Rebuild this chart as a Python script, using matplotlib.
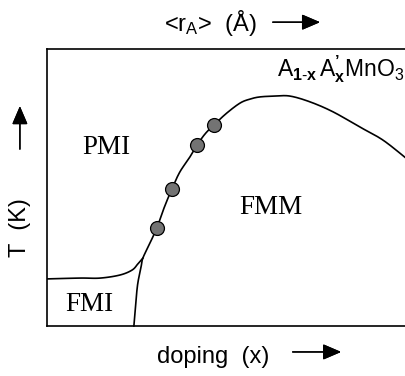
import numpy as np
import matplotlib.pyplot as plt

plt.rcParams['font.family'] = ['Liberation Sans', 'DejaVu Sans']
plt.rcParams['mathtext.fontset'] = 'custom'
plt.rcParams['mathtext.rm'] = 'Liberation Sans'
plt.rcParams['mathtext.it'] = 'Liberation Sans:italic'
plt.rcParams['mathtext.bf'] = 'Liberation Sans:bold'

# phase boundary PMI / FMM (and FMM / FMI below the junction), arbitrary units
tc_x = [0.242, 0.248, 0.253, 0.262, 0.267, 0.287, 0.306, 0.326, 0.348, 0.370,
        0.396, 0.418, 0.440, 0.465, 0.501, 0.538, 0.565, 0.593, 0.635, 0.677,
        0.733, 0.797, 0.872, 0.936, 1.000]
tc_y = [0.000, 0.094, 0.155, 0.213, 0.245, 0.300, 0.354, 0.426, 0.495, 0.556,
        0.606, 0.653, 0.693, 0.726, 0.769, 0.805, 0.819, 0.827, 0.830, 0.830,
        0.809, 0.773, 0.718, 0.671, 0.606]

# PMI / FMI boundary
fmi_x = [0.000, 0.092, 0.148, 0.203, 0.237, 0.253, 0.267]
fmi_y = [0.170, 0.173, 0.173, 0.184, 0.202, 0.224, 0.245]

# measured points on the boundary
pts_x = [0.306, 0.348, 0.418, 0.465]
pts_y = [0.354, 0.495, 0.653, 0.726]


def smooth(xs, ys, n=20):
    # Catmull-Rom curve through the given points, only for a smooth stroke
    p = np.column_stack([xs, ys])
    p = np.vstack([p[0], p, p[-1]])
    out = []
    t = np.linspace(0, 1, n, endpoint=False)[:, None]
    for i in range(1, len(p) - 2):
        p0, p1, p2, p3 = p[i - 1], p[i], p[i + 1], p[i + 2]
        seg = 0.5 * (2 * p1 + (-p0 + p2) * t + (2 * p0 - 5 * p1 + 4 * p2 - p3) * t ** 2
                     + (-p0 + 3 * p1 - 3 * p2 + p3) * t ** 3)
        out.append(seg)
    out.append(p[-2][None, :])
    out = np.vstack(out)
    return out[:, 0], out[:, 1]


fig = plt.figure(figsize=(4.06, 3.76), dpi=100)
ax = fig.add_axes([47 / 406, 50 / 376, 359 / 406, 277 / 376])

ax.plot(*smooth(tc_x, tc_y), color='black', lw=1.2, clip_on=False)
ax.plot(*smooth(fmi_x, fmi_y), color='black', lw=1.2)
ax.plot(pts_x, pts_y, 'o', ms=10, mfc='#737373', mec='black', mew=0.9, zorder=3)

ax.set_xlim(0, 1)
ax.set_ylim(0, 1)
ax.set_xticks([])
ax.set_yticks([])
ax.spines['right'].set_visible(False)
for s in ['left', 'top', 'bottom']:
    ax.spines[s].set_linewidth(1.2)

serif = ['Liberation Serif', 'DejaVu Serif']
ax.text(0.164, 0.644, 'PMI', family=serif, fontsize=19.5, ha='center', va='center')
ax.text(0.623, 0.426, 'FMM', family=serif, fontsize=19.5, ha='center', va='center')
ax.text(0.118, 0.079, 'FMI', family=serif, fontsize=19.5, ha='center', va='center')
fig.text(0.997, 0.798,
         "$\\mathrm{A_{\\mathbf{1\\text{-}x}}\\,A^{\\mathbf{’}}_{\\mathbf{x}}MnO_3}$",
         fontsize=16.5, ha='right', va='baseline')

# outer labels with arrows
fig.text(0.517, 0.939, r'<r$_\mathrm{A}$>  (Å)', fontsize=17, ha='center', va='center')
fig.text(0.525, 0.051, 'doping  (x)', fontsize=17, ha='center', va='center')
fig.text(0.049, 0.394, 'T  (K)', fontsize=17, ha='center', va='center', rotation=90)

arrow = dict(arrowstyle='-|>,head_length=0.7,head_width=0.3', color='black', lw=1.0,
             mutation_scale=16)
fig.add_artist(plt.annotate('', xy=(0.795, 0.941), xytext=(0.665, 0.941),
                            xycoords='figure fraction', arrowprops=arrow))
fig.add_artist(plt.annotate('', xy=(0.847, 0.064), xytext=(0.714, 0.064),
                            xycoords='figure fraction', arrowprops=arrow))
fig.add_artist(plt.annotate('', xy=(0.049, 0.725), xytext=(0.049, 0.596),
                            xycoords='figure fraction', arrowprops=arrow))

fig.savefig('out.png', dpi=100)
